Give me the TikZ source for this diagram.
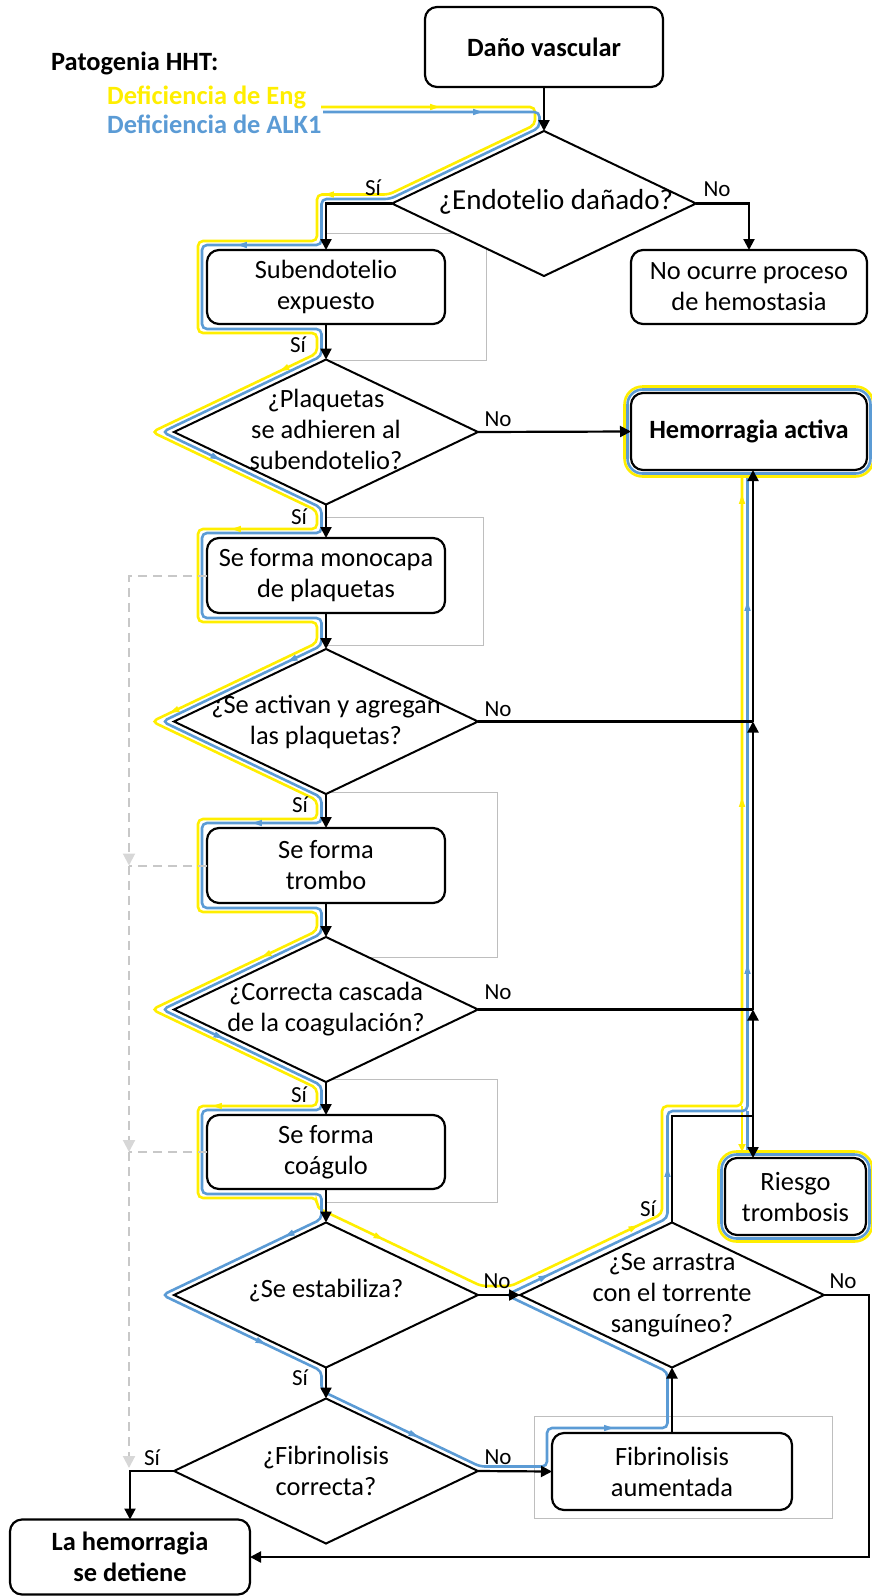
\documentclass[tikz,border=0pt]{standalone}
\usepackage{fontspec}
\setmainfont{Carlito}
\usetikzlibrary{shapes.geometric,arrows.meta,calc}
\definecolor{hhtyellow}{RGB}{255,238,0}
\definecolor{hhtblue}{RGB}{91,155,213}
\definecolor{framegray}{RGB}{190,190,190}
\definecolor{ghostgray}{RGB}{200,200,200}
\definecolor{ghosttipgray}{RGB}{215,215,215}
\newcommand\bodysize{\fontsize{26.4pt}{31pt}\selectfont}
\newcommand\answersize{\fontsize{23pt}{27pt}\selectfont}
% small direction marks on the HHT trails: colour, position, canvas angle
\newcommand\trailtick[3]{\fill[#1] ($(#2)+(#3:5.5pt)$) -- ($(#2)+({#3+140}:5pt)$) -- ($(#2)+({#3-140}:5pt)$) -- cycle;}
\pgfdeclarelayer{frames}
\pgfdeclarelayer{trails}
\pgfsetlayers{frames,trails,main}

\begin{document}
\begin{tikzpicture}[x=1pt, y=-1pt,
  stepbox/.style={draw, line width=2.2pt, rounded corners=12pt, fill=white, align=center,
    minimum width=238pt, minimum height=75pt, inner sep=0pt, outer sep=0pt, font=\bodysize},
  keybox/.style={stepbox, font=\bodysize\bfseries},
  decision/.style={draw, shape=diamond, line width=2pt, fill=white, minimum width=304pt,
    minimum height=145pt, inner sep=0pt, outer sep=0pt},
  question/.style={align=center, font=\bodysize, inner sep=0pt},
  flow/.style={line width=2.2pt, -{Triangle[length=11pt,width=11pt]}},
  link/.style={line width=2.2pt},
  answer/.style={font=\answersize, inner sep=0pt},
  trailY/.style={draw=hhtyellow, line width=2.6pt, rounded corners=5pt},
  trailB/.style={draw=hhtblue, line width=2.6pt, rounded corners=5pt},
  groupframe/.style={draw=framegray, line width=0.9pt},
  ghost/.style={draw=ghostgray, line width=2pt, dash pattern=on 9pt off 6pt},
  ghostflow/.style={ghost, -{Triangle[length=12pt,width=12pt,color=ghosttipgray]}}
]
\path[use as bounding box] (0,0) rectangle (872,1596);

% ---------- legend ----------
\node[anchor=west, font=\bodysize\bfseries, inner sep=0pt] (legend) at (51,63) {Patogenia HHT:};
\node[anchor=west, font=\bodysize\bfseries, text=hhtyellow, inner sep=0pt] (eng) at (107,97) {Deficiencia de Eng};
\node[anchor=west, font=\bodysize\bfseries, text=hhtblue, inner sep=0pt] (alk) at (107,124) {Deficiencia de ALK1};

% ---------- steps and decisions ----------
\node[keybox, minimum height=80pt] (dano) at (544,47) {Daño vascular};
\node[decision] (d1) at (544,203.5) {};
\node[question, font=\fontsize{29pt}{34pt}\selectfont] (d1t) at ($(d1)+(12,-2)$) {¿Endotelio dañado?};
\node[stepbox, minimum height=74pt] (sub) at (326,287) {Subendotelio\\expuesto};
\node[stepbox, minimum width=236pt, minimum height=74pt] (noo) at (749,287) {No ocurre proceso\\de hemostasia};
\node[decision] (d2) at (326,432) {};
\node[question] (d2t) at ($(d2)+(0,-3)$) {¿Plaquetas\\se adhieren al\\subendotelio?};
\node[keybox, minimum width=236pt, minimum height=77pt] (hem) at (749,431.5) {Hemorragia activa};
\node[stepbox] (mono) at (326,575.5) {Se forma monocapa\\de plaquetas};
\node[decision] (d3) at (326,721.5) {};
\node[question] (d3t) at (d3) {¿Se activan y agregan\\las plaquetas?};
\node[stepbox] (trombo) at (326,865.5) {Se forma\\trombo};
\node[decision] (d4) at (326,1009.5) {};
\node[question] (d4t) at (d4) {¿Correcta cascada\\de la coagulación?};
\node[stepbox, minimum height=74pt] (coag) at (326,1152) {Se forma\\coágulo};
\node[decision] (d5) at (326,1295) {};
\node[question] (d5t) at ($(d5)+(0,-4)$) {¿Se estabiliza?};
\node[decision] (d6) at (326,1471) {};
\node[question] (d6t) at (d6) {¿Fibrinolisis\\correcta?};
\node[decision] (d7) at (672,1295) {};
\node[question] (d7t) at (d7) {¿Se arrastra\\con el torrente\\sanguíneo?};
\node[stepbox, minimum width=141pt, minimum height=77pt] (riesgo) at (795.5,1196.5) {Riesgo\\trombosis};
\node[stepbox, minimum width=240pt, minimum height=77pt] (fibra) at (672,1471.5) {Fibrinolisis\\aumentada};
\node[keybox, minimum width=240pt] (detiene) at (130,1557) {La hemorragia\\se detiene};

% ---------- junctions ----------
\coordinate (jx) at (753,0);
\coordinate (j1) at (d3.east -| jx);
\coordinate (j2) at (d4.east -| jx);
\coordinate (j3) at (753,1116);
\coordinate (c7) at ($(d7.east)+(45,0)$);
\coordinate (gx) at (129,0);

% ---------- grouping frames ----------
\begin{pgfonlayer}{frames}
  \draw[groupframe] (326,233) rectangle (486,360);
  \draw[groupframe] (326,517) rectangle (483,645);
  \draw[groupframe] (326,792) rectangle (497,957);
  \draw[groupframe] (326,1079) rectangle (497,1202);
  \draw[groupframe] (534,1416) rectangle (832,1518);
\end{pgfonlayer}

% ---------- offset points of the HHT trails ----------
\foreach \dn in {d2,d3,d4,d5}{
  \coordinate (\dn-yT) at ($(\dn)+(-9,-78.7)$);
  \coordinate (\dn-yL) at ($(\dn)+(-174,0)$);
  \coordinate (\dn-yB) at ($(\dn)+(-9,78.7)$);
  \coordinate (\dn-bT) at ($(\dn)+(-4.5,-75.9)$);
  \coordinate (\dn-bL) at ($(\dn)+(-163.6,0)$);
  \coordinate (\dn-bB) at ($(\dn)+(-4.5,75.9)$);
}
\foreach \bx in {sub,mono,trombo,coag}{
  \coordinate (\bx-yN) at ($(\bx.north)+(-9,-9)$);
  \coordinate (\bx-yNW) at ($(\bx.north west)+(-9,-9)$);
  \coordinate (\bx-ySW) at ($(\bx.south west)+(-9,9)$);
  \coordinate (\bx-yS) at ($(\bx.south)+(-9,9)$);
  \coordinate (\bx-bN) at ($(\bx.north)+(-4.5,-5)$);
  \coordinate (\bx-bNW) at ($(\bx.north west)+(-5,-5)$);
  \coordinate (\bx-bSW) at ($(\bx.south west)+(-5,5)$);
  \coordinate (\bx-bS) at ($(\bx.south)+(-4.5,5)$);
}
\coordinate (yS) at (321,107);
\coordinate (bS) at (323,112);
\coordinate (d1-yT) at ($(d1)+(-9,-78.7)$);
\coordinate (d1-yC) at ($(d1)+(-155.2,-9)$);
\coordinate (d1-bT) at ($(d1)+(-4.5,-75.9)$);
\coordinate (d1-bC) at ($(d1)+(-154.1,-4.5)$);
\coordinate (d5-yTR) at ($(d5)+(-9,-87.3)$);
\coordinate (d5-yR) at ($(d5)+(155.2,-9)$);
\coordinate (d6-bTR) at ($(d6)+(-4.5,-80.2)$);
\coordinate (d6-bR) at ($(d6)+(154.1,-4.5)$);
\coordinate (fibra-bNW) at ($(fibra.north west)+(-5,-5)$);
\coordinate (d7-yL) at ($(d7)+(-161,-9)$);
\coordinate (d7-yT) at ($(d7)+(-10,-81)$);
\coordinate (d7-bB) at ($(d7)+(-4.5,76.9)$);
\coordinate (d7-bL) at ($(d7)+(-165.7,0)$);
\coordinate (d7-bT) at ($(d7)+(-4.5,-76.9)$);
\coordinate (yJ) at ($(d7-yT |- j3)+(0,-10)$);
\coordinate (yK) at ($(j3)+(-11,-10)$);
\coordinate (yH) at ($(j3 |- hem.south)+(-11,7)$);
\coordinate (yR) at ($(j3 |- riesgo.north)+(-11,-6)$);
\coordinate (bJ) at ($(d7-bT |- j3)+(0,-5)$);
\coordinate (bK) at ($(j3)+(-5.5,-5)$);
\coordinate (bH) at ($(j3 |- hem.south)+(-5.5,4)$);
\coordinate (bR) at ($(j3 |- riesgo.north)+(-5.5,-3)$);

% ---------- HHT trails ----------
\begin{pgfonlayer}{trails}
  % Eng deficiency
  \draw[trailY] (yS) -- (yS -| d1-yT) -- (d1-yT) -- (d1-yC) -- (d1-yC -| sub-yN)
    -- (sub-yN) -- (sub-yNW) -- (sub-ySW) -- (sub-yS)
    -- (d2-yT) -- (d2-yL) -- (d2-yB)
    -- (mono-yN) -- (mono-yNW) -- (mono-ySW) -- (mono-yS)
    -- (d3-yT) -- (d3-yL) -- (d3-yB)
    -- (trombo-yN) -- (trombo-yNW) -- (trombo-ySW) -- (trombo-yS)
    -- (d4-yT) -- (d4-yL) -- (d4-yB)
    -- (coag-yN) -- (coag-yNW) -- (coag-ySW) -- (coag-yS)
    -- (d5-yTR) -- (d5-yR) -- (d7-yL) -- (d7-yT) -- (yJ) -- (yK) -- (yH);
  \draw[trailY, rounded corners=0pt, -{Triangle[length=8pt,width=7pt]}] (yK) -- (yR);
  % ALK1 deficiency
  \draw[trailB] (bS) -- (bS -| d1-bT) -- (d1-bT) -- (d1-bC) -- (d1-bC -| sub-bN)
    -- (sub-bN) -- (sub-bNW) -- (sub-bSW) -- (sub-bS)
    -- (d2-bT) -- (d2-bL) -- (d2-bB)
    -- (mono-bN) -- (mono-bNW) -- (mono-bSW) -- (mono-bS)
    -- (d3-bT) -- (d3-bL) -- (d3-bB)
    -- (trombo-bN) -- (trombo-bNW) -- (trombo-bSW) -- (trombo-bS)
    -- (d4-bT) -- (d4-bL) -- (d4-bB)
    -- (coag-bN) -- (coag-bNW) -- (coag-bSW) -- (coag-bS)
    -- (d5-bT) -- (d5-bL) -- (d5-bB)
    -- (d6-bTR) -- (d6-bR) -- (d6-bR -| fibra-bNW) -- (fibra-bNW) -- (fibra-bNW -| d7-bB)
    -- (d7-bB) -- (d7-bL) -- (d7-bT) -- (bJ) -- (bK) -- (bH);
  \draw[trailB, rounded corners=0pt] (bK) -- (bR);
  % halos of the outcome boxes
  \draw[draw=hhtyellow, line width=2.6pt, rounded corners=18pt]
    ($(hem.north west)+(-6.5,-6.5)$) rectangle ($(hem.south east)+(6.5,6.5)$);
  \draw[draw=hhtblue, line width=2.6pt, rounded corners=15pt]
    ($(hem.north west)+(-3.5,-3.5)$) rectangle ($(hem.south east)+(3.5,3.5)$);
  \draw[draw=hhtyellow, line width=2.6pt, rounded corners=18pt]
    ($(riesgo.north west)+(-6.5,-6.5)$) rectangle ($(riesgo.south east)+(6.5,6.5)$);
  \draw[draw=hhtblue, line width=2.6pt, rounded corners=15pt]
    ($(riesgo.north west)+(-3.5,-3.5)$) rectangle ($(riesgo.south east)+(3.5,3.5)$);
  % direction marks
  \trailtick{hhtyellow}{434,107}{0}
  \trailtick{hhtyellow}{330,194.5}{180}
  \trailtick{hhtyellow}{285,368.6}{205.5}
  \trailtick{hhtyellow}{237,529}{180}
  \trailtick{hhtyellow}{175,710.5}{205.5}
  \trailtick{hhtyellow}{267,954.6}{205.5}
  \trailtick{hhtyellow}{218,1106}{180}
  \trailtick{hhtyellow}{378,1236.8}{-25.5}
  \trailtick{hhtyellow}{633,1227.8}{25.5}
  \trailtick{hhtyellow}{742,500}{90}
  \trailtick{hhtyellow}{742,803}{90}
  \trailtick{hhtblue}{477,112}{0}
  \trailtick{hhtblue}{243,245}{180}
  \trailtick{hhtblue}{215,457.1}{-25.5}
  \trailtick{hhtblue}{293,659.2}{205.5}
  \trailtick{hhtblue}{258,823}{180}
  \trailtick{hhtblue}{218,1036}{-25.5}
  \trailtick{hhtblue}{290,1234.2}{205.5}
  \trailtick{hhtblue}{260,1341.5}{-25.5}
  \trailtick{hhtblue}{413,1434.5}{-25.5}
  \trailtick{hhtblue}{608,1428}{0}
  \trailtick{hhtblue}{543,1277.5}{25.5}
  \trailtick{hhtblue}{667.5,1173}{90}
  \trailtick{hhtblue}{747.5,607}{90}
  \trailtick{hhtblue}{747.5,970}{90}
\end{pgfonlayer}

% ---------- dashed shortcut ----------
\draw[ghostflow] (mono.west) -| (trombo.west -| gx);
\draw[ghost] (trombo.west) -- (trombo.west -| gx);
\draw[ghostflow] (trombo.west -| gx) -- (coag.west -| gx);
\draw[ghost] (coag.west) -- (coag.west -| gx);
\draw[ghostflow] (coag.west -| gx) -- ($(d6.west -| gx)+(0,-3)$);

% ---------- connectors ----------
\draw[flow] (dano.south) -- (d1.north);
\draw[flow] (d1.west) -| (sub.north);
\draw[flow] (d1.east) -| (noo.north);
\draw[flow] (sub.south) -- (d2.north);
\draw[flow] (d2.east) -- (hem.west);
\draw[flow] (d2.south) -- (mono.north);
\draw[flow] (mono.south) -- (d3.north);
\draw[link] (d3.east) -- (j1);
\draw[flow] (d3.south) -- (trombo.north);
\draw[flow] (trombo.south) -- (d4.north);
\draw[link] (d4.east) -- (j2);
\draw[flow] (d4.south) -- (coag.north);
\draw[flow] (coag.south) -- (d5.north);
\draw[flow] (d5.east) -- (d7.west);
\draw[flow] (d5.south) -- (d6.north);
\draw[flow] (d6.east) -- (fibra.west);
\draw[flow] (d6.west) -| (detiene.north);
\draw[flow] (fibra.north) -- (d7.south);
\draw[flow] (d7.east) -- (c7) |- (detiene.east);
\draw[link] (d7.north) |- (j3);
\draw[flow] (j3) -- (j3 |- riesgo.north);
\draw[flow] (j3) -- (j2);
\draw[flow] (j2) -- (j1);
\draw[flow] (j1) -- (j1 |- hem.south);

% ---------- answers ----------
\node[answer] (a1) at (373,188) {Sí};
\node[answer] (a2) at (717,189) {No};
\node[answer] (a3) at (298,345) {Sí};
\node[answer] (a4) at (498,419) {No};
\node[answer] (a5) at (299,517) {Sí};
\node[answer] (a6) at (498,709) {No};
\node[answer] (a7) at (300,805) {Sí};
\node[answer] (a8) at (498,992) {No};
\node[answer] (a9) at (299,1095) {Sí};
\node[answer] (a10) at (497,1281) {No};
\node[answer] (a11) at (300,1378) {Sí};
\node[answer] (a12) at (498,1457) {No};
\node[answer] (a13) at (152,1458) {Sí};
\node[answer] (a14) at (648,1209) {Sí};
\node[answer] (a15) at (843,1281) {No};
\end{tikzpicture}
\end{document}
